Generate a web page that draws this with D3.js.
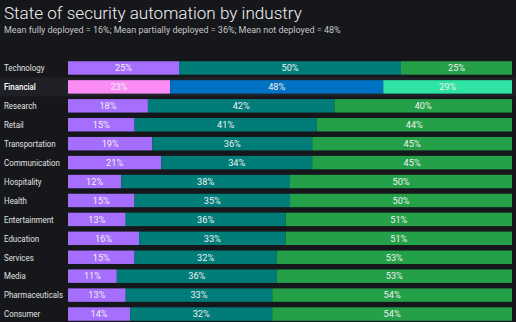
<!DOCTYPE html>
<html><head><meta charset="utf-8">
<script src="https://cdn.jsdelivr.net/npm/d3@7"></script>
<style>
html,body{margin:0;padding:0;background:#16171b;}
svg{display:block;font-family:Roboto,"Noto Sans",sans-serif;}
</style></head>
<body>
<svg id="chart" width="516" height="322"></svg>
<script>
const categories = ["Technology","Financial","Research","Retail","Transportation","Communication","Hospitality","Health","Entertainment","Education","Services","Media","Pharmaceuticals","Consumer"];
const fully =     [25,23,18,15,19,21,12,15,13,16,15,11,13,14];
const partially = [50,48,42,41,36,34,38,35,36,33,32,36,33,32];
const notDep =    [25,29,40,44,45,45,50,50,51,51,53,53,54,54];
const seriesKeys = ["fully","partially","notDep"];
const highlight = "Financial";
const titleText = "State of security automation by industry";
const subtitleText = "Mean fully deployed = 16%; Mean partially deployed = 36%; Mean not deployed = 48%";

const colors = {fully:"#a66efc", partially:"#007d79", notDep:"#24a148"};
const hiColors = {fully:"#fb8cf6", partially:"#0072c3", notDep:"#2ee3a4"};

const rows = categories.map((c,i)=>({cat:c, fully:fully[i], partially:partially[i], notDep:notDep[i]}));
const stacked = d3.stack().keys(seriesKeys)(rows);

const W = 516, H = 322;
const svg = d3.select("#chart");
const x = d3.scaleLinear().domain([0,100]).range([68,512]);
const y = d3.scaleBand().domain(categories).range([58.5,323.5]).paddingInner(0.29).paddingOuter(0.145);

function fit(sel, target){
  const n = sel.node(); const fs = +sel.attr("font-size");
  const w = n.getComputedTextLength();
  if (w>0) sel.attr("font-size", fs*target/w);
  return +sel.attr("font-size");
}

const title = svg.append("text").attr("x",4).attr("y",19).attr("fill","#f2f2f2")
  .attr("font-size",20).attr("font-weight",300).text(titleText);
fit(title, 298);
const sub = svg.append("text").attr("x",4).attr("y",32.5).attr("fill","#c6c6c6")
  .attr("font-size",9.6).text(subtitleText);
fit(sub, 337);

// highlight band
const step = y.step();
svg.append("rect").attr("x",0).attr("width",W)
  .attr("y", y(highlight) - (step - y.bandwidth())/2).attr("height", step)
  .attr("fill","#1f2126");

const labelFs = 9.4;
const probe = svg.append("text").attr("font-size",labelFs).text("Pharmaceuticals");
const pw = probe.node().getComputedTextLength();
probe.remove();
const sx = pw > 0 ? Math.min(1, 59/pw) : 1;

svg.append("g").attr("transform",`translate(4,0) scale(${sx},1)`)
  .selectAll("text").data(categories).join("text")
  .attr("x",0).attr("y",d=>y(d)+y.bandwidth()/2).attr("dy","0.35em")
  .attr("fill",d=>d===highlight?"#ffffff":"#e0e0e0")
  .attr("font-weight",d=>d===highlight?500:400)
  .attr("font-size",labelFs).text(d=>d);

const g = svg.append("g");
stacked.forEach(s=>{
  const key = s.key;
  g.append("g").selectAll("rect").data(s).join("rect")
    .attr("x",d=>x(d[0])).attr("width",d=>x(d[1])-x(d[0]))
    .attr("y",d=>y(d.data.cat)).attr("height",y.bandwidth())
    .attr("fill",d=>d.data.cat===highlight?hiColors[key]:colors[key]);
  g.append("g").selectAll("text").data(s).join("text")
    .attr("x",d=>(x(d[0])+x(d[1]))/2).attr("y",d=>y(d.data.cat)+y.bandwidth()/2)
    .attr("dy","0.36em").attr("text-anchor","middle")
    .attr("fill","#f0f0f0").attr("font-size",9.2)
    .text(d=>(d[1]-d[0])+"%");
});
</script>
</body></html>
